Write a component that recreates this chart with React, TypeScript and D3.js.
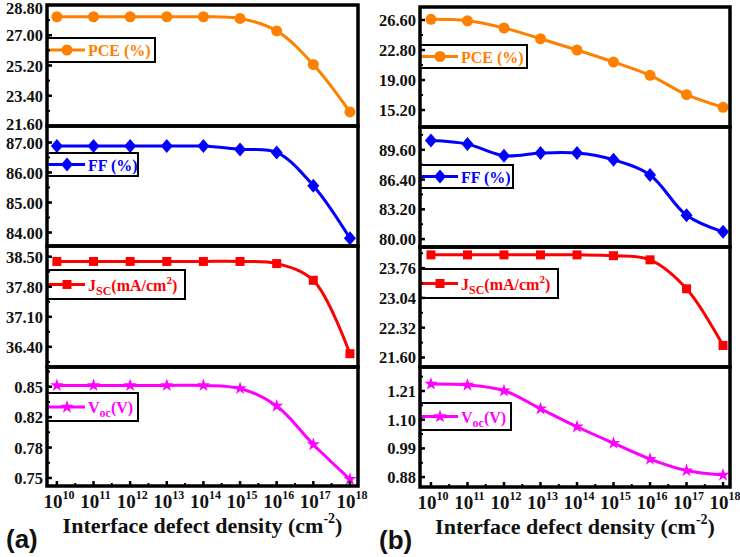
import React from 'react';
import * as d3 from 'd3';

const exponents = [10, 11, 12, 13, 14, 15, 16, 17, 18];

const pceA = [28.1, 28.1, 28.1, 28.1, 28.1, 28.0, 27.26, 25.26, 22.44];
const ffA = [86.88, 86.88, 86.88, 86.88, 86.88, 86.77, 86.67, 85.56, 83.81];
const jscA = [38.39, 38.39, 38.39, 38.39, 38.39, 38.39, 38.34, 37.95, 36.24];
const vocA = [0.8514, 0.8514, 0.8514, 0.8514, 0.8514, 0.8481, 0.8289, 0.7867, 0.7486];

const pceB = [26.69, 26.51, 25.59, 24.23, 22.8, 21.28, 19.59, 17.14, 15.54];
const ffB = [90.59, 90.21, 88.96, 89.25, 89.25, 88.53, 86.9, 82.56, 80.78];
const jscB = [24.08, 24.08, 24.08, 24.08, 24.08, 24.06, 23.96, 23.26, 21.89];
const vocB = [1.237, 1.233, 1.211, 1.142, 1.073, 1.01, 0.949, 0.905, 0.888];

const pceTicksA = [21.6, 23.4, 25.2, 27.0, 28.8];
const ffTicksA = [84, 85, 86, 87];
const jscTicksA = [36.4, 37.1, 37.8, 38.5];
const vocTicksA = [0.75, 0.78333, 0.81667, 0.85];

const pceTicksB = [15.2, 19.0, 22.8, 26.6];
const ffTicksB = [80.0, 83.2, 86.4, 89.6];
const jscTicksB = [21.6, 22.32, 23.04, 23.76];
const vocTicksB = [0.88, 0.99, 1.1, 1.21];

const xTitle = 'Interface defect density (cm';

type Kind = 'circle' | 'diamond' | 'square' | 'star';

const SERIF = '"Liberation Serif", "Times New Roman", serif';
const SANS = '"Liberation Sans", Arial, sans-serif';

const COLORS = {
  pce: '#FF8000',
  ff: '#0000FF',
  jsc: '#FF0000',
  voc: '#FF00FF',
};

function Marker({ kind, x, y, color }: { kind: Kind; x: number; y: number; color: string }) {
  if (kind === 'circle') return <circle cx={x} cy={y} r={5.5} fill={color} />;
  if (kind === 'square') return <rect x={x - 4.5} y={y - 4.5} width={9} height={9} fill={color} />;
  if (kind === 'diamond')
    return <path d={`M${x},${y - 7}L${x + 6},${y}L${x},${y + 7}L${x - 6},${y}Z`} fill={color} />;
  const star = d3.symbol().type(d3.symbolStar).size(55)();
  return <path d={star || ''} transform={`translate(${x},${y})`} fill={color} />;
}

function LegendLabel({ id, color, x, y }: { id: string; color: string; x: number; y: number }) {
  const st = { fontFamily: SERIF, fontWeight: 700, fill: color } as any;
  if (id === 'pce')
    return <text x={x} y={y} fontSize={16} style={st}>PCE (%)</text>;
  if (id === 'ff')
    return <text x={x} y={y} fontSize={16} style={st}>FF (%)</text>;
  if (id === 'jsc')
    return (
      <text x={x} y={y} fontSize={16} style={st}>
        J<tspan fontSize={12} dy={4}>SC</tspan>
        <tspan dy={-4}>(mA/cm</tspan>
        <tspan fontSize={11} dy={-7}>2</tspan>
        <tspan dy={7}>)</tspan>
      </text>
    );
  return (
    <text x={x} y={y} fontSize={16} style={st}>
      V<tspan fontSize={12} dy={4}>oc</tspan>
      <tspan dy={-4}>(V)</tspan>
    </text>
  );
}

interface PanelDef {
  id: string;
  values: number[];
  ticks: number[];
  fmt: string;
  domain: [number, number];
  kind: Kind;
  top: number;
  bottom: number;
  legTop: number;
  legH: number;
  legW: number;
}

function Side({
  left,
  right,
  panels,
  xDomain,
  label,
}: {
  left: number;
  right: number;
  panels: PanelDef[];
  xDomain: [number, number];
  label: string;
}) {
  const x = d3.scaleLinear().domain(xDomain).range([left, right]);
  const last = panels[panels.length - 1];
  const midX = (left + right) / 2;
  return (
    <g>
      {panels.map((p, pi) => {
        const color = (COLORS as any)[p.id];
        const y = d3.scaleLinear().domain(p.domain).range([p.bottom, p.top]);
        const line = d3
          .line<number>()
          .x((_, i) => x(exponents[i]))
          .y((d) => y(d))
          .curve(d3.curveCatmullRom.alpha(0.5));
        const step = p.ticks[1] - p.ticks[0];
        const minors: number[] = [];
        for (let v = p.ticks[0] - step * 2; v <= p.ticks[p.ticks.length - 1] + step * 2; v += step / 2) {
          const py = y(v);
          if (py > p.top + 2 && py < p.bottom - 2) minors.push(v);
        }
        const f = d3.format(p.fmt);
        const legY = p.top + p.legTop;
        const legMid = legY + p.legH / 2;
        return (
          <g key={pi}>
            <path d={line(p.values) || ''} fill="none" stroke={color} strokeWidth={3} />
            {p.values.map((v, i) => (
              <Marker key={i} kind={p.kind} x={x(exponents[i])} y={y(v)} color={color} />
            ))}
            <rect x={left} y={legY} width={p.legW} height={p.legH} fill="#fff" stroke="#000" strokeWidth={2} />
            <line x1={left} x2={left + 38} y1={legMid} y2={legMid} stroke={color} strokeWidth={3} />
            <Marker kind={p.kind} x={left + 20} y={legMid} color={color} />
            <LegendLabel id={p.id} color={color} x={left + 41} y={legMid + 6} />
            {minors.map((v, i) => (
              <line key={'m' + i} x1={left} x2={left + 3} y1={y(v)} y2={y(v)} stroke="#000" strokeWidth={2} />
            ))}
            {p.ticks.map((v, i) => (
              <g key={'t' + i}>
                <line x1={left} x2={left + 5} y1={y(v)} y2={y(v)} stroke="#000" strokeWidth={2.5} />
                <text
                  x={left - 4}
                  y={Math.min(Math.max(y(v) + 6, 14), p.bottom + 4)}
                  textAnchor="end"
                  fontSize={16.5}
                  style={{ fontFamily: SERIF, fontWeight: 700 }}
                  fill="#111"
                >
                  {f(v)}
                </text>
              </g>
            ))}
            <rect
              x={left}
              y={p.top}
              width={right - left}
              height={p.bottom - p.top}
              fill="none"
              stroke="#000"
              strokeWidth={3.5}
            />
          </g>
        );
      })}
      {exponents.map((e, i) => (
        <g key={'x' + i}>
          <line x1={x(e)} x2={x(e)} y1={last.bottom} y2={last.bottom - 5} stroke="#000" strokeWidth={2.5} />
          {i < exponents.length - 1 && (
            <line
              x1={x(e + 0.5)}
              x2={x(e + 0.5)}
              y1={last.bottom}
              y2={last.bottom - 3}
              stroke="#000"
              strokeWidth={2}
            />
          )}
          <text
            x={x(e) + 2}
            y={last.bottom + 22}
            textAnchor="middle"
            fontSize={19}
            style={{ fontFamily: SERIF, fontWeight: 700 }}
            fill="#111"
          >
            10<tspan fontSize={12} dy={-9}>{e}</tspan>
          </text>
        </g>
      ))}
      <text
        x={midX}
        y={last.bottom + 47}
        textAnchor="middle"
        fontSize={22}
        style={{ fontFamily: SERIF, fontWeight: 700 }}
        fill="#111"
      >
        {xTitle}
        <tspan fontSize={14} dy={-10}>-2</tspan>
        <tspan dy={10}>)</tspan>
      </text>
      <text
        x={left - 41}
        y={last.bottom + 62}
        fontSize={26}
        style={{ fontFamily: SANS, fontWeight: 700 }}
        fill="#111"
      >
        {label}
      </text>
    </g>
  );
}

export default function App() {
  const panelsA: PanelDef[] = [
    { id: 'pce', values: pceA, ticks: pceTicksA, fmt: '.2f', domain: [21.6, 28.8], kind: 'circle', top: 5, bottom: 126, legTop: 33, legH: 24, legW: 108 },
    { id: 'ff', values: ffA, ticks: ffTicksA, fmt: '.2f', domain: [83.55, 87.55], kind: 'diamond', top: 126, bottom: 246, legTop: 27, legH: 23, legW: 91 },
    { id: 'jsc', values: jscA, ticks: jscTicksA, fmt: '.2f', domain: [35.93, 38.75], kind: 'square', top: 246, bottom: 367, legTop: 24, legH: 29, legW: 138 },
    { id: 'voc', values: vocA, ticks: vocTicksA, fmt: '.2f', domain: [0.7412, 0.8716], kind: 'star', top: 367, bottom: 486, legTop: 26, legH: 28, legW: 91 },
  ];
  const panelsB: PanelDef[] = [
    { id: 'pce', values: pceB, ticks: pceTicksB, fmt: '.2f', domain: [13.05, 28.25], kind: 'circle', top: 7, bottom: 127, legTop: 38, legH: 23, legW: 107 },
    { id: 'ff', values: ffB, ticks: ffTicksB, fmt: '.2f', domain: [79.15, 92.05], kind: 'diamond', top: 127, bottom: 247, legTop: 38, legH: 23, legW: 93 },
    { id: 'jsc', values: jscB, ticks: jscTicksB, fmt: '.2f', domain: [21.37, 24.27], kind: 'square', top: 247, bottom: 367, legTop: 22, legH: 29, legW: 138 },
    { id: 'voc', values: vocB, ticks: vocTicksB, fmt: '.2f', domain: [0.842, 1.302], kind: 'star', top: 367, bottom: 487, legTop: 36, legH: 27, legW: 91 },
  ];
  return (
    <svg
      width={740}
      height={557}
      viewBox="0 0 740 557"
      style={{ position: 'absolute', left: 0, top: 0, background: '#fff' }}
    >
      <rect x={0} y={0} width={740} height={557} fill="#fff" />
      <Side left={47} right={358} panels={panelsA} xDomain={[9.73, 18.22]} label="(a)" />
      <Side left={420} right={730} panels={panelsB} xDomain={[9.7, 18.19]} label="(b)" />
    </svg>
  );
}
